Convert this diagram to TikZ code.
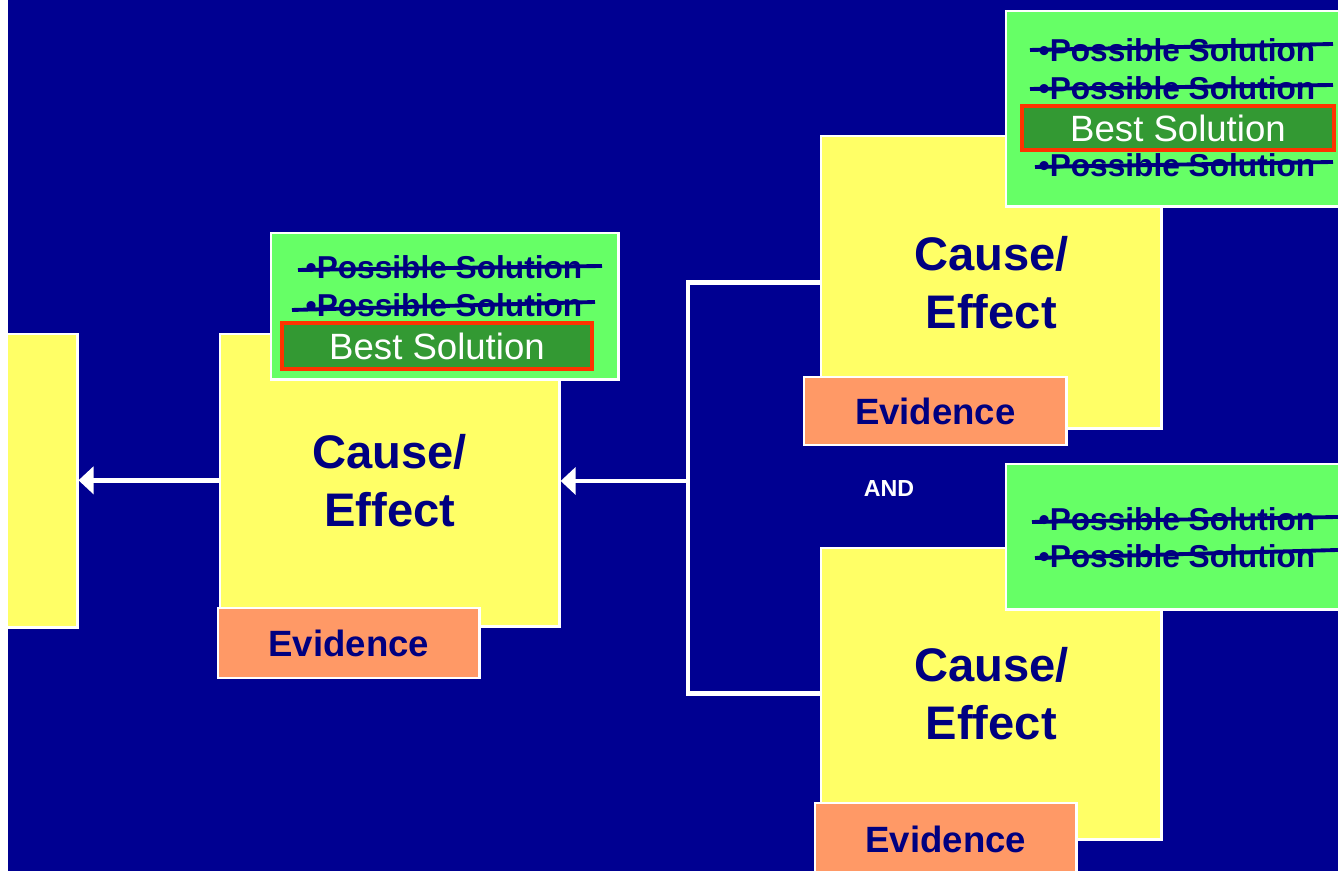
\documentclass[tikz,border=0pt]{standalone}
\usepackage{fontspec}
\setmainfont{Liberation Sans}
\usetikzlibrary{arrows.meta}
\definecolor{slidebg}{RGB}{0,0,145}
\definecolor{inkblue}{RGB}{0,0,128}
\definecolor{boxyellow}{RGB}{255,255,102}
\definecolor{boxgreen}{RGB}{102,255,102}
\definecolor{bestgreen}{RGB}{51,153,51}
\definecolor{bestred}{RGB}{255,51,0}
\definecolor{evorange}{RGB}{255,153,102}
\tikzset{ce/.style={draw=white,line width=0.7pt,fill=boxyellow,text=inkblue,align=center,inner sep=0pt,anchor=north west,font=\fontsize{13.4}{16.5}\selectfont\bfseries}}
\tikzset{ev/.style={draw=white,line width=0.7pt,fill=evorange,text=inkblue,inner sep=0pt,anchor=north west,font=\fontsize{10.4}{12}\selectfont\bfseries}}
\tikzset{gb/.style={draw=white,line width=0.7pt,fill=boxgreen,inner sep=0pt,anchor=north west}}
\tikzset{ps/.style={text=inkblue,inner sep=0pt,font=\fontsize{9}{10}\selectfont\bfseries}}
\tikzset{bs/.style={draw=bestred,line width=1.1pt,fill=bestgreen,text=white,inner sep=0pt,font=\fontsize{10.4}{12}\selectfont}}
\tikzset{strk/.style={inkblue,line width=1.1pt}}
\tikzset{wire/.style={white,line width=1.4pt}}
\tikzset{arr/.style={white,line width=1.4pt,-{Triangle[length=0.15cm,width=0.27cm]}}}

\begin{document}
\begin{tikzpicture}[x=0.01cm,y=-0.01cm]
  \useasboundingbox (0,0) rectangle (1338,871);
  \clip (0,0) rectangle (1338,871);
  \fill[white] (0,0) rectangle (1338,871);
  \fill[slidebg] (8,0) rectangle (1338,871);

  \node[ce,minimum width=0.70cm,minimum height=2.93cm] (ce1) at (6,333) {};
  \node[ce,minimum width=3.39cm,minimum height=2.92cm] (ce2) at (219,333) {Cause/\\Effect};
  \node[ce,minimum width=3.40cm,minimum height=2.92cm] (ce3) at (820,135) {Cause/\\Effect};
  \node[ce,minimum width=3.40cm,minimum height=2.91cm] (ce4) at (820,547) {Cause/\\Effect};

  \node[gb,minimum width=3.47cm,minimum height=1.46cm] (gb2) at (270,232) {};
  \node[ps] (p21) at (444,267) {•Possible Solution};
  \node[ps] (p22) at (444,305) {•Possible Solution};
  \node[bs,minimum width=3.10cm,minimum height=0.46cm] (bs2) at (437,346) {Best Solution};
  \draw[strk] (298,270) -- (602,266);
  \draw[strk] (292,310) -- (595,302);

  \node[gb,minimum width=3.50cm,minimum height=1.95cm] (gb3) at (1005,10) {};
  \node[ps] (p31) at (1177,50) {•Possible Solution};
  \node[ps] (p32) at (1177,88) {•Possible Solution};
  \node[bs,minimum width=3.12cm,minimum height=0.44cm] (bs3) at (1178,128) {Best Solution};
  \node[ps] (p33) at (1177,165) {•Possible Solution};
  \draw[strk] (1030,50) -- (1333,44);
  \draw[strk] (1030,89) -- (1333,85);
  \draw[strk] (1035,167) -- (1333,162);

  \node[gb,minimum width=3.50cm,minimum height=1.45cm] (gb4) at (1005,463) {};
  \node[ps] (p41) at (1177,519) {•Possible Solution};
  \node[ps] (p42) at (1177,556) {•Possible Solution};
  \draw[strk] (1032,522) -- (1338,517);
  \draw[strk] (1035,558) -- (1338,550);

  \node[ev,minimum width=2.61cm,minimum height=0.70cm] (ev2) at (217,607) {Evidence};
  \node[ev,minimum width=2.62cm,minimum height=0.68cm] (ev3) at (803,376) {Evidence};
  \node[ev,minimum width=2.61cm,minimum height=0.72cm] (ev4) at (814,802) {Evidence};

  \node[text=white,font=\fontsize{6.6}{8}\selectfont\bfseries] (and) at (889,489) {AND};

  \coordinate (jn) at (688,481);
  \draw[wire] (ce3.west) -| (jn) |- (ce4.west);
  \draw[arr] (jn) -- (jn -| ce2.east);
  \draw[arr] (ce2.west) -- (ce2.west -| ce1.east);
\end{tikzpicture}
\end{document}
